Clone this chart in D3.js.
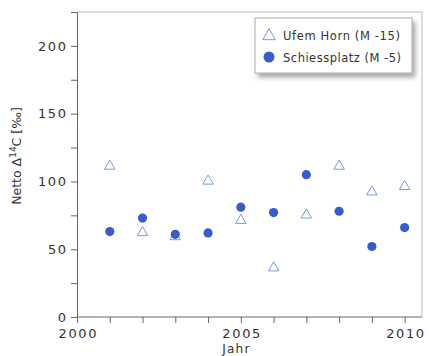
<!DOCTYPE html>
<html>
<head>
<meta charset="utf-8">
<script src="https://cdn.jsdelivr.net/npm/d3@7"></script>
<style>
  body { margin: 0; background: #fff; }
  text { font-family: "DejaVu Sans", sans-serif; fill: #333; }
</style>
</head>
<body>
<div id="viz"></div>
<script>
const years = [2001, 2002, 2003, 2004, 2005, 2006, 2007, 2008, 2009, 2010]
const ufemHorn = [112, 63, 60, 101, 72, 37, 76, 112, 93, 97]
const schiessplatz = [63, 73, 61, 62, 81, 77, 105, 78, 52, 66]
const seriesNames = ['Ufem Horn (M -15)', 'Schiessplatz (M -5)']
const xTicks = [2000, 2005, 2010]
const yTicks = [0, 50, 100, 150, 200]

const w = 429, h = 356
const margin = { top: 12, right: 7, bottom: 39, left: 77 }
const innerWidth = w - margin.left - margin.right
const innerHeight = h - margin.top - margin.bottom

const svg = d3.select('#viz')
    .append('svg')
    .attr('width', w)
    .attr('height', h)

const g = svg.append('g')
    .attr('transform', `translate(${margin.left}, ${margin.top})`)

const x = d3.scaleLinear()
    .domain([2000, 2010.53])
    .range([0, innerWidth])

const y = d3.scaleLinear()
    .domain([0, 225])
    .range([innerHeight, 0])

// light frame top + right
g.append('path')
    .attr('d', `M0,0H${innerWidth}V${innerHeight}`)
    .attr('fill', 'none')
    .attr('stroke', '#bbb')

// y axis (minor ticks every 25, labels every 50)
const yAxisG = g.append('g')
    .call(d3.axisLeft(y).tickValues(d3.range(0, 226, 25)).tickSize(6).tickFormat(d => d))
yAxisG.select('.domain').attr('stroke', '#666')
yAxisG.selectAll('.tick line').attr('stroke', '#666')
yAxisG.selectAll('.tick text')
    .filter(d => !yTicks.includes(d))
    .remove()
yAxisG.selectAll('.tick text')
    .attr('x', -11)
    .style('font-size', '13px')
    .attr('textLength', d => String(d).length * 10 - 2)
    .attr('fill', '#333')

// x axis (ticks every year, labels every 5)
const xAxisG = g.append('g')
    .attr('transform', `translate(0, ${innerHeight})`)
    .call(d3.axisBottom(x).tickValues(d3.range(2000, 2011)).tickSize(6).tickFormat(d => d))
xAxisG.select('.domain').attr('stroke', '#666').attr('d', `M0,0H${innerWidth}`)
xAxisG.selectAll('.tick line').attr('stroke', '#666')
xAxisG.selectAll('.tick text')
    .filter(d => !xTicks.includes(d))
    .remove()
xAxisG.selectAll('.tick text')
    .attr('y', 12)
    .style('font-size', '13px')
    .attr('textLength', 38)
    .attr('fill', '#333')

// axis labels
g.append('text')
    .attr('x', x(2005) - 5)
    .attr('y', innerHeight + 36)
    .attr('text-anchor', 'middle')
    .style('font-size', '12px')
    .attr('textLength', 27)
    .text('Jahr')

g.append('text')
    .attr('transform', 'rotate(-90)')
    .attr('x', -(156 - margin.top))
    .attr('y', -56)
    .attr('text-anchor', 'middle')
    .style('font-size', '12.5px')
    .html('Netto Δ<tspan dy="-5" font-size="9px">14</tspan><tspan dy="5">C [‰]</tspan>')

const triColor = '#7d97dd'
const dotColor = '#3a5cc8'
const tri = d3.symbol().type(d3.symbolTriangle).size(48)

g.selectAll('.tri')
    .data(years)
    .enter()
    .append('path')
    .attr('class', 'tri')
    .attr('d', tri)
    .attr('transform', (d, i) => `translate(${x(d)}, ${y(ufemHorn[i]) + 1})`)
    .attr('fill', 'none')
    .attr('stroke', triColor)
    .attr('stroke-width', 1)

g.selectAll('.dot')
    .data(years)
    .enter()
    .append('circle')
    .attr('class', 'dot')
    .attr('cx', d => x(d))
    .attr('cy', (d, i) => y(schiessplatz[i]))
    .attr('r', 4.6)
    .attr('fill', dotColor)

// legend
const legend = svg.append('g').attr('transform', 'translate(255, 18)')
const defs = svg.append('defs')
const f = defs.append('filter').attr('id', 'sh').attr('x', '-10%').attr('y', '-10%').attr('width', '130%').attr('height', '150%')
f.append('feDropShadow').attr('dx', 3).attr('dy', 4).attr('stdDeviation', 2.5).attr('flood-color', '#000').attr('flood-opacity', 0.35)

legend.append('rect')
    .attr('width', 157)
    .attr('height', 55)
    .attr('fill', '#fff')
    .attr('stroke', '#999')
    .attr('stroke-width', 0.8)
    .attr('filter', 'url(#sh)')

legend.append('path')
    .attr('d', d3.symbol().type(d3.symbolTriangle).size(70))
    .attr('transform', 'translate(14, 18)')
    .attr('fill', 'none')
    .attr('stroke', triColor)

legend.append('circle')
    .attr('cx', 14)
    .attr('cy', 39)
    .attr('r', 5.5)
    .attr('fill', dotColor)

legend.selectAll('.lt')
    .data(seriesNames)
    .enter()
    .append('text')
    .attr('x', 28)
    .attr('y', (d, i) => 22 + i * 22)
    .style('font-size', '11.5px')
    .attr('textLength', (d, i) => i ? 118 : 117)
    .text(d => d)
</script>
</body>
</html>
